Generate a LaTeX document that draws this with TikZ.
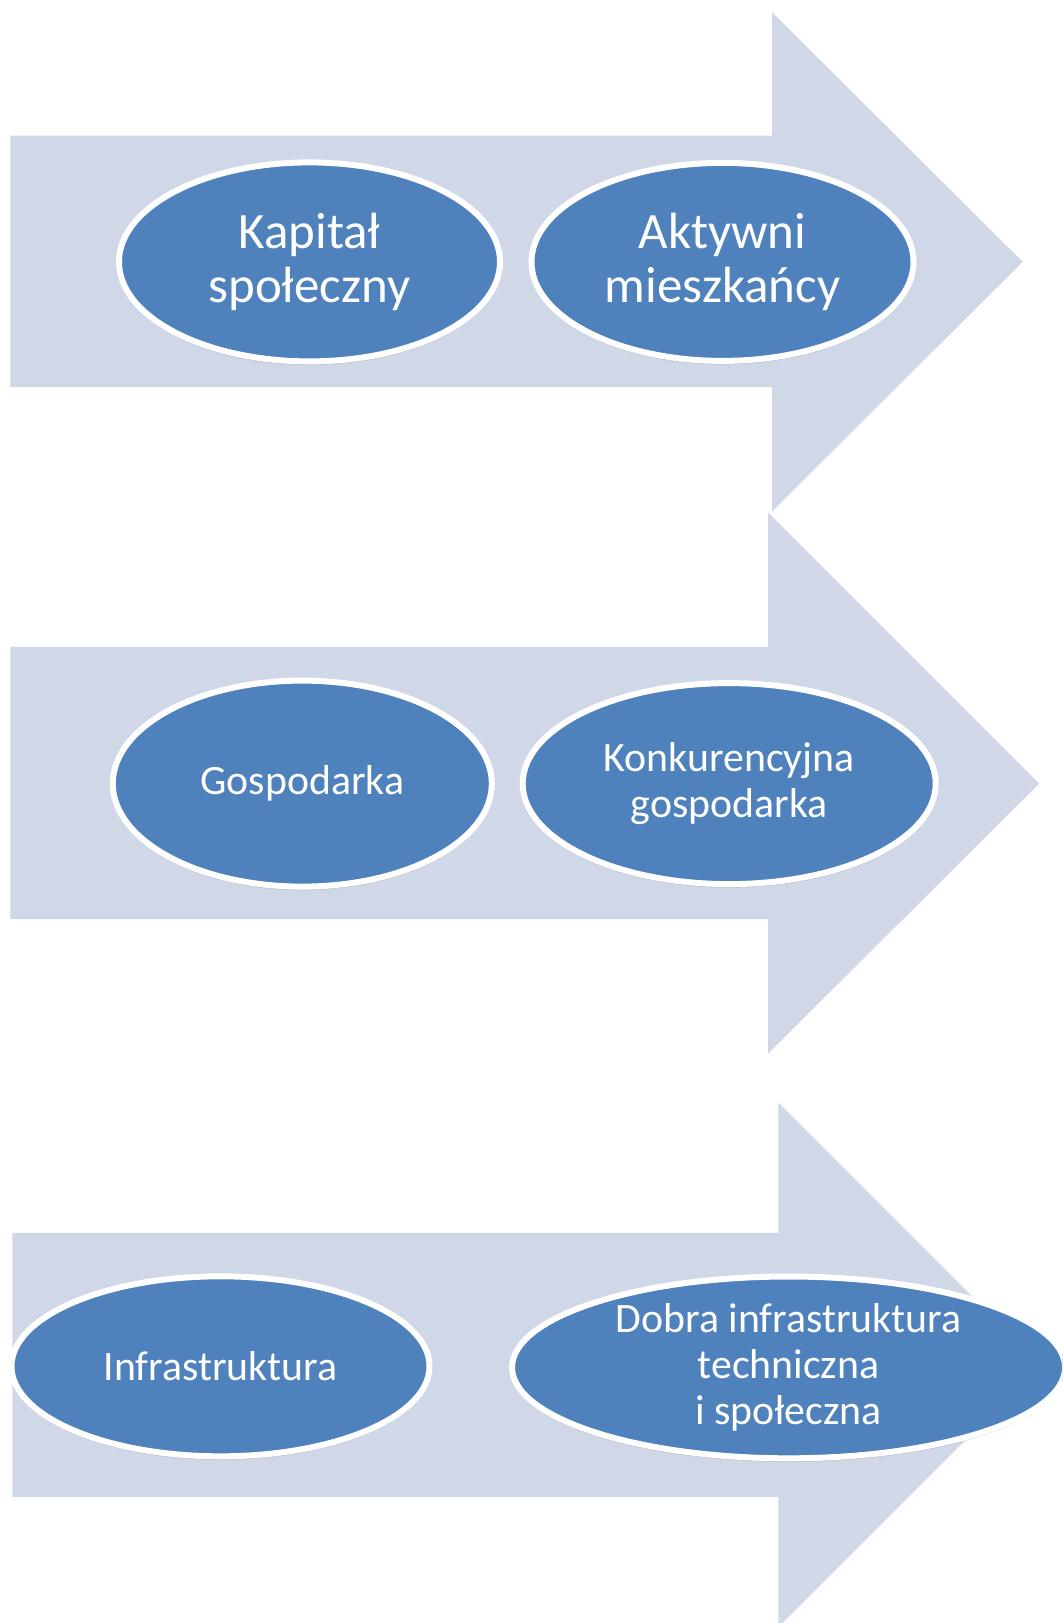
\documentclass[tikz,border=0pt]{standalone}
\usepackage{fontspec}
\setmainfont{Carlito}
\usepackage{tikz}
\usetikzlibrary{shapes.geometric,shadows}
\definecolor{arrowblue}{HTML}{D0D8E8}
\definecolor{ovalblue}{HTML}{4F81BD}
\tikzset{arrowbg/.style={fill=arrowblue}}
\tikzset{oval/.style={ellipse, fill=ovalblue, draw=white, line width=3.4pt, text=white, align=center, inner sep=0mm,
  drop shadow={opacity=0.35, shadow xshift=0pt, shadow yshift=-2pt}}}
\tikzset{bigtext/.style={font=\fontsize{29}{30.6}\selectfont}}
\tikzset{smalltext/.style={font=\fontsize{23.8}{26.4}\selectfont}}

\begin{document}
\begin{tikzpicture}[x=0.02cm, y=-0.02cm]
    \useasboundingbox (0,0) rectangle (1062,1623);
    \clip (0,0) rectangle (1062,1623);

    \fill[arrowbg] (10.4,135.6) -- (772.2,135.6) -- (772.2,12.4) -- (1022.7,261.9)
        -- (772.2,511.3) -- (772.2,387.1) -- (10.4,387.1) -- cycle;
    \fill[arrowbg] (10.4,646.9) -- (768.0,646.9) -- (768.0,512.4) -- (1039.2,783.6)
        -- (768.0,1053.7) -- (768.0,919.2) -- (10.4,919.2) -- cycle;
    \fill[arrowbg] (12.4,1232.8) -- (778.4,1232.8) -- (778.4,1102.4) -- (1040.8,1364.8)
        -- (778.4,1627.2) -- (778.4,1496.8) -- (12.4,1496.8) -- cycle;

    \node[oval, bigtext, minimum width=381*0.02cm, minimum height=199*0.02cm]
        (kap) at (309.5,261.9) {Kapitał\\społeczny};
    \node[oval, bigtext, minimum width=382*0.02cm, minimum height=198*0.02cm]
        (akt) at (722.5,261.9) {Aktywni\\mieszkańcy};
    \node[oval, smalltext, minimum width=379*0.02cm, minimum height=206*0.02cm]
        (gos) at (302.3,783.6) {Gospodarka};
    \node[oval, smalltext, minimum width=413*0.02cm, minimum height=201*0.02cm]
        (kon) at (729.2,783.6) {Konkurencyjna\\gospodarka};
    \node[oval, smalltext, minimum width=418*0.02cm, minimum height=180*0.02cm]
        (inf) at (220.5,1366.3) {Infrastruktura};
    \node[oval, smalltext, minimum width=553*0.02cm, minimum height=173*0.02cm]
        (dob) at (788.6,1367.4) {Dobra infrastruktura\\techniczna\\i społeczna};
\end{tikzpicture}
\end{document}
